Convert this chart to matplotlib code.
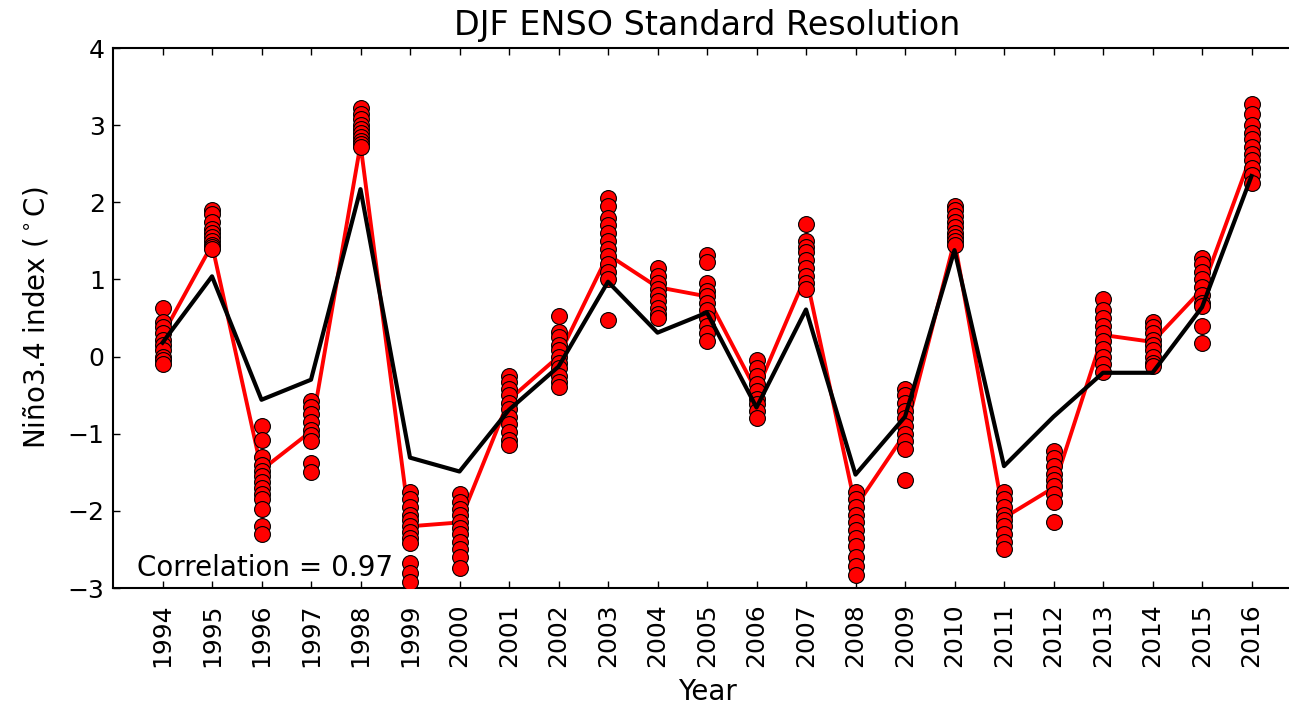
# DJF ENSO Standard Resolution: ensemble members, ensemble mean and observed Nino3.4

import numpy as np
import matplotlib
matplotlib.use("Agg")
import matplotlib.pyplot as plt


# Data .......................................................................

years = list(range(1994, 2017))

# Observed index (black line)
observed = [0.18, 1.04, -0.56, -0.30, 2.17, -1.31, -1.49, -0.69, -0.13, 0.97,
            0.31, 0.57, -0.66, 0.61, -1.53, -0.78, 1.38, -1.42, -0.78, -0.21,
            -0.21, 0.64, 2.34]

# Ensemble mean (red line)
ens_mean = [0.28, 1.45, -1.47, -0.97, 2.75, -2.20, -2.15, -0.56, 0.00, 1.32,
            0.90, 0.78, -0.45, 1.05, -1.95, -1.00, 1.50, -2.09, -1.70, 0.28,
            0.19, 0.87, 2.62]

# Ensemble members (red dots), one list per year
members = [
    [0.63, 0.45, 0.38, 0.30, 0.22, 0.15, 0.08, 0.00, -0.05, -0.10],
    [1.90, 1.85, 1.75, 1.65, 1.60, 1.55, 1.50, 1.45, 1.42, 1.40],
    [-0.90, -1.08, -1.30, -1.40, -1.48, -1.55, -1.62, -1.70, -1.78, -1.85, -1.97, -2.20, -2.30],
    [-0.58, -0.65, -0.75, -0.85, -0.95, -1.02, -1.10, -1.38, -1.50],
    [3.22, 3.15, 3.08, 3.00, 2.95, 2.90, 2.85, 2.80, 2.75, 2.72],
    [-1.75, -1.85, -1.95, -2.05, -2.12, -2.20, -2.28, -2.35, -2.42, -2.68, -2.80, -2.92],
    [-1.78, -1.88, -1.98, -2.06, -2.15, -2.22, -2.30, -2.40, -2.50, -2.60, -2.74],
    [-0.25, -0.33, -0.42, -0.50, -0.60, -0.68, -0.78, -0.88, -0.98, -1.08, -1.15],
    [0.52, 0.32, 0.25, 0.15, 0.08, 0.00, -0.08, -0.15, -0.25, -0.33, -0.40],
    [2.05, 1.95, 1.80, 1.70, 1.60, 1.50, 1.40, 1.30, 1.20, 1.10, 1.00, 0.48],
    [1.15, 1.05, 0.95, 0.88, 0.80, 0.72, 0.63, 0.55, 0.50],
    [1.32, 1.22, 0.95, 0.85, 0.78, 0.70, 0.60, 0.50, 0.40, 0.30, 0.20],
    [-0.05, -0.15, -0.25, -0.35, -0.45, -0.55, -0.62, -0.70, -0.80],
    [1.72, 1.50, 1.42, 1.35, 1.25, 1.15, 1.05, 0.95, 0.88],
    [-1.75, -1.85, -1.95, -2.05, -2.15, -2.25, -2.35, -2.45, -2.60, -2.72, -2.83],
    [-0.42, -0.50, -0.60, -0.70, -0.80, -0.90, -1.00, -1.10, -1.20, -1.60],
    [1.95, 1.90, 1.82, 1.75, 1.68, 1.60, 1.55, 1.50, 1.45],
    [-1.75, -1.85, -1.95, -2.05, -2.12, -2.20, -2.30, -2.40, -2.50],
    [-1.22, -1.32, -1.42, -1.52, -1.60, -1.68, -1.78, -1.88, -2.15],
    [0.75, 0.60, 0.50, 0.40, 0.30, 0.20, 0.10, 0.00, -0.10, -0.20],
    [0.45, 0.38, 0.30, 0.22, 0.15, 0.08, 0.00, -0.08, -0.12],
    [1.28, 1.20, 1.10, 1.00, 0.90, 0.80, 0.70, 0.65, 0.40, 0.18],
    [3.28, 3.15, 3.00, 2.90, 2.82, 2.72, 2.62, 2.55, 2.45, 2.35, 2.25],
]

correlation = 0.97


# Plot .......................................................................

fig = plt.figure(figsize = (12.89, 7.08), dpi = 100)
ax = fig.add_axes([113 / 1289, 1 - 588 / 708, 1188 / 1289, 540 / 708])

ax.plot(years, ens_mean, color = "red", linewidth = 2.8, zorder = 2)

for yr, vals in zip(years, members):
    ax.scatter([yr] * len(vals), vals, s = 130, color = "red",
               edgecolor = "black", linewidth = 0.8, zorder = 3)

ax.plot(years, observed, color = "black", linewidth = 3, zorder = 4)

ax.set_xlim(1993, 2017)
ax.set_ylim(-3, 4)
ax.set_xticks(years)
ax.set_xticklabels([str(y) for y in years], rotation = 90, fontsize = 18)
ax.set_yticks(range(-3, 5))
ax.set_yticklabels([str(v).replace("-", "\u2212") for v in range(-3, 5)], fontsize = 18)
ax.tick_params(direction = "in", top = True, right = True, length = 5, width = 1, pad = 6)
ax.tick_params(axis = "x", pad = 11)
for sp in ax.spines.values():
    sp.set_linewidth(1.5)

ax.set_title("DJF ENSO Standard Resolution", fontsize = 24, pad = 9)
ax.set_xlabel("Year", fontsize = 20, labelpad = 8)
ax.set_ylabel(r"Niño3.4 index ($^\circ$C)", fontsize = 20, labelpad = 12)
ax.text(0.02, 0.012, f"Correlation = {correlation}", transform = ax.transAxes,
        fontsize = 20, ha = "left", va = "bottom")

fig.savefig("out.png", dpi = 100)
